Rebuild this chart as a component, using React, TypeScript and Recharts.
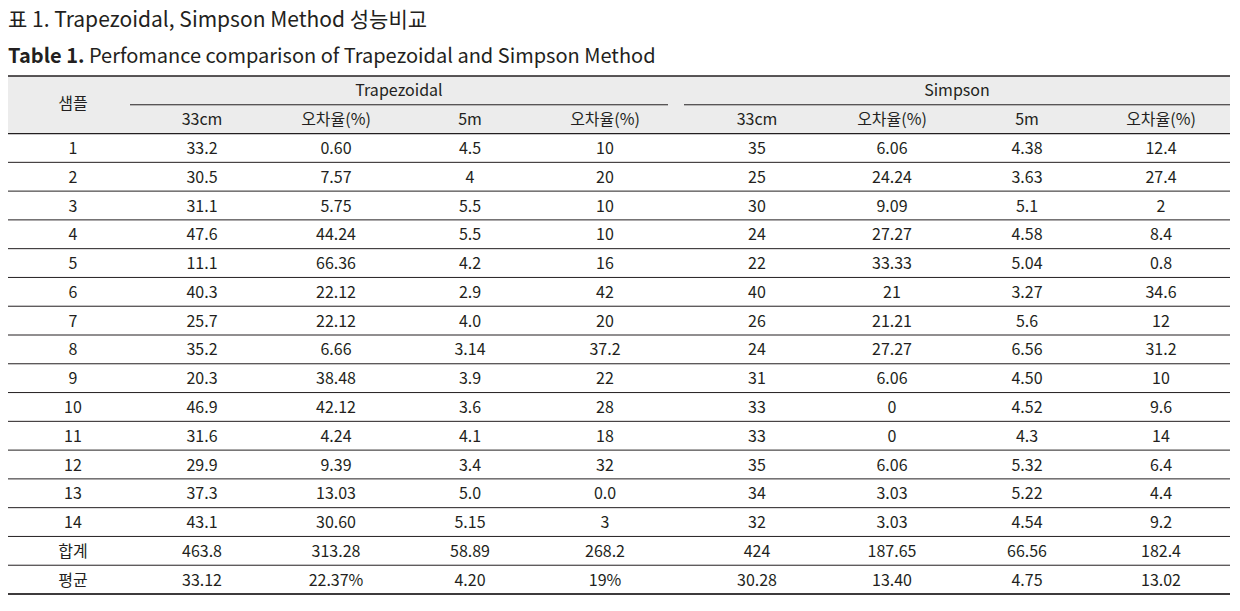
import React from 'react';
import { ScatterChart, Scatter, XAxis, YAxis, ReferenceLine, ReferenceArea } from 'recharts';

const samples = ['1', '2', '3', '4', '5', '6', '7', '8', '9', '10', '11', '12', '13', '14', '합계', '평균'];
const trap33 = ['33.2', '30.5', '31.1', '47.6', '11.1', '40.3', '25.7', '35.2', '20.3', '46.9', '31.6', '29.9', '37.3', '43.1', '463.8', '33.12'];
const trapErr33 = ['0.60', '7.57', '5.75', '44.24', '66.36', '22.12', '22.12', '6.66', '38.48', '42.12', '4.24', '9.39', '13.03', '30.60', '313.28', '22.37%'];
const trap5 = ['4.5', '4', '5.5', '5.5', '4.2', '2.9', '4.0', '3.14', '3.9', '3.6', '4.1', '3.4', '5.0', '5.15', '58.89', '4.20'];
const trapErr5 = ['10', '20', '10', '10', '16', '42', '20', '37.2', '22', '28', '18', '32', '0.0', '3', '268.2', '19%'];
const simp33 = ['35', '25', '30', '24', '22', '40', '26', '24', '31', '33', '33', '35', '34', '32', '424', '30.28'];
const simpErr33 = ['6.06', '24.24', '9.09', '27.27', '33.33', '21', '21.21', '27.27', '6.06', '0', '0', '6.06', '3.03', '3.03', '187.65', '13.40'];
const simp5 = ['4.38', '3.63', '5.1', '4.58', '5.04', '3.27', '5.6', '6.56', '4.50', '4.52', '4.3', '5.32', '5.22', '4.54', '66.56', '4.75'];
const simpErr5 = ['12.4', '27.4', '2', '8.4', '0.8', '34.6', '12', '31.2', '10', '9.6', '14', '6.4', '4.4', '9.2', '182.4', '13.02'];

const subHeaders = ['33cm', '오차율(%)', '5m', '오차율(%)', '33cm', '오차율(%)', '5m', '오차율(%)'];
const groups = ['Trapezoidal', 'Simpson'];

// layout: column centres (offset from the table's left edge)
const COL_X = [65, 194, 328, 462, 597, 749, 884, 1019, 1153];
const GROUP_SPAN = [
  [122, 660],
  [676, 1222],
];
const TABLE_W = 1222;
const N_ROWS = 18; // 2 header rows + 16 body rows

const columns = [samples, trap33, trapErr33, trap5, trapErr5, simp33, simpErr33, simp5, simpErr5];

const cells: { x: number; y: number; label: string }[] = [];
columns.forEach((col, c) => {
  col.forEach((v, r) => cells.push({ x: COL_X[c], y: r + 2.5, label: v }));
});
cells.push({ x: COL_X[0], y: 0.95, label: '샘플' });
subHeaders.forEach((h, i) => cells.push({ x: COL_X[i + 1], y: 1.5, label: h }));
groups.forEach((g, i) => cells.push({ x: (GROUP_SPAN[i][0] + GROUP_SPAN[i][1]) / 2, y: 0.5, label: g }));

const FONT = '"Noto Sans CJK KR", "Noto Sans", sans-serif';
const INK = '#231f20';

const CellText = (props: any) => {
  const { cx, cy, payload } = props;
  return (
    <text x={cx} y={cy + 6} textAnchor="middle" fontSize={16} fill={INK} fontFamily={FONT}>
      {payload.label}
    </text>
  );
};

const rowLines = Array.from({ length: N_ROWS - 2 }, (_, i) => i + 3);

export default function App() {
  return (
    <div style={{ position: 'absolute', left: 0, top: 0, width: 1240, height: 611, background: '#fff', fontFamily: FONT }}>
      <svg width={1240} height={80} style={{ position: 'absolute', left: 0, top: 0 }}>
        <text x={8} y={27} fontSize={21} fill={INK} fontFamily={FONT}>
          표 1. Trapezoidal, Simpson Method 성능비교
        </text>
        <text x={8} y={63} fontSize={20} fill={INK} fontFamily={FONT}>
          <tspan fontWeight={700}>Table 1.</tspan> Perfomance comparison of Trapezoidal and Simpson Method
        </text>
      </svg>
      <div style={{ position: 'absolute', left: 0, top: 0 }}>
        <ScatterChart width={1240} height={611} margin={{ top: 76, right: 10, bottom: 17, left: 8 }}>
          <XAxis type="number" dataKey="x" domain={[0, TABLE_W]} hide />
          <YAxis type="number" dataKey="y" domain={[0, N_ROWS]} reversed hide />
          <ReferenceArea x1={0} x2={TABLE_W} y1={0} y2={2} fill="#ececec" fillOpacity={1} stroke="none" />
          <ReferenceLine y={0} stroke={INK} strokeWidth={1.3} />
          <ReferenceLine y={2} stroke={INK} strokeWidth={1.3} />
          {rowLines.map((y) => (
            <ReferenceLine key={y} y={y} stroke={INK} strokeWidth={1} />
          ))}
          <ReferenceLine y={N_ROWS} stroke={INK} strokeWidth={1.3} />
          {GROUP_SPAN.map(([a, b], i) => (
            <ReferenceLine key={'g' + i} segment={[{ x: a, y: 1 }, { x: b, y: 1 }]} stroke={INK} strokeWidth={1} />
          ))}
          <Scatter data={cells} shape={<CellText />} isAnimationActive={false} />
        </ScatterChart>
      </div>
    </div>
  );
}
